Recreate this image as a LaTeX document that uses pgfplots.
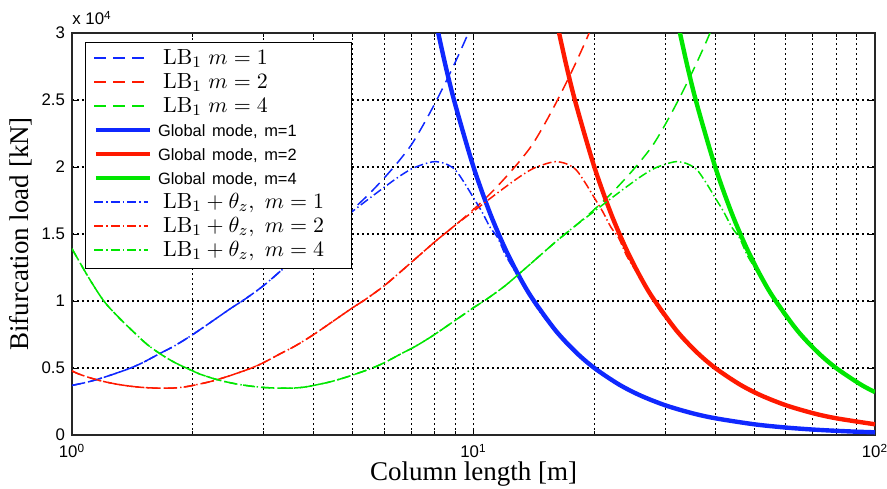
\documentclass[border=0pt]{standalone}
\usepackage[no-math]{fontspec}
\setmainfont{Liberation Serif}
\newfontfamily\arialf{Liberation Sans}
\usepackage{pgfplots}
\pgfplotsset{compat=1.18}
\definecolor{cb}{RGB}{15,40,255}
\definecolor{cr}{RGB}{255,25,0}
\definecolor{cg}{RGB}{0,230,0}
\tikzset{
  dsh/.style={line width=0.75pt, dash pattern=on 6pt off 3.5pt},
  dsd/.style={line width=0.75pt, dash pattern=on 4.5pt off 1.5pt on 0.7pt off 1.5pt},
  glb/.style={line width=2.2pt, line join=round},
}
\newcommand{\li}[1]{\tikz[baseline={(0pt,-3pt)}]{\draw[#1] (0pt,0pt)--(27pt,0pt);}\hspace{3pt}}
\newcommand{\gm}[1]{{\arialf\fontsize{8.2}{10}\selectfont Global mode, m=#1}}
\newcommand{\lbe}[1]{\hspace*{4pt}{\fontsize{11}{13}\selectfont #1}}
\begin{document}
\begin{tikzpicture}
\path[use as bounding box] (-36pt,-26.5pt) rectangle (407.5pt,217.5pt);
\begin{axis}[
  name=ax,
  at={(0,0)}, anchor=south west,
  scale only axis, width=401.5pt, height=201pt,
  xmode=log, xmin=1, xmax=100, ymin=0, ymax=30000,
  xtick={1,10,100},
  xticklabels={10\textsuperscript{0},10\textsuperscript{1},10\textsuperscript{2}},
  minor xtick={2,3,4,5,6,7,8,9,20,30,40,50,60,70,80,90},
  ytick={0,5000,10000,15000,20000,25000,30000},
  yticklabels={0,0.5,1,1.5,2,2.5,3},
  scaled y ticks=false,
  tick label style={font=\arialf\fontsize{8.4}{10}\selectfont},
  xticklabel style={yshift=-1pt},
  xmajorgrids, xminorgrids, ymajorgrids,
  major grid style={black, line width=0.55pt, dash pattern=on 1pt off 1.5pt},
  minor grid style={black, line width=0.55pt, dash pattern=on 1pt off 1.5pt},
  tick pos=both, tick align=inside,
  major tick length=3pt, minor tick length=2pt,
  every tick/.style={black, line width=0.5pt},
  axis line style={line width=0.7pt, black!85},
  xlabel={Column length [m]}, ylabel={Bifurcation load [kN]},
  label style={font=\fontsize{13.5}{16}\selectfont},
  xlabel style={at={(axis description cs:0.5,-0.1144)}, anchor=base},
  ylabel style={at={(axis description cs:-0.0548,0.5)}, anchor=base},
  legend cell align=left,
  legend style={at={(axis description cs:0.0162,0.9776)}, anchor=north west,
    draw=black, line width=0.6pt, fill=white, inner xsep=1pt, inner ysep=3pt,
    row sep=1pt,
    nodes={text width=125pt, text height=7.2pt, text depth=2.8pt, inner xsep=3pt, inner ysep=0.5pt}},
]
\addlegendimage{empty legend}
\addlegendentry{\li{cb,dsh}\lbe{$\mathrm{LB}_1\ m=1$}}
\addlegendimage{empty legend}
\addlegendentry{\li{cr,dsh}\lbe{$\mathrm{LB}_1\ m=2$}}
\addlegendimage{empty legend}
\addlegendentry{\li{cg,dsh}\lbe{$\mathrm{LB}_1\ m=4$}}
\addlegendimage{empty legend}
\addlegendentry{\li{cb,glb}\gm{1}}
\addlegendimage{empty legend}
\addlegendentry{\li{cr,glb}\gm{2}}
\addlegendimage{empty legend}
\addlegendentry{\li{cg,glb}\gm{4}}
\addlegendimage{empty legend}
\addlegendentry{\li{cb,dsd}\lbe{$\mathrm{LB}_1+\theta_z,\ m=1$}}
\addlegendimage{empty legend}
\addlegendentry{\li{cr,dsd}\lbe{$\mathrm{LB}_1+\theta_z,\ m=2$}}
\addlegendimage{empty legend}
\addlegendentry{\li{cg,dsd}\lbe{$\mathrm{LB}_1+\theta_z,\ m=4$}}
% LB1 dashed
\addplot[forget plot, draw=cb, dsh, smooth] coordinates {(1,3700)(1.1,3970)(1.2,4300)(1.3,4650)(1.4,5000)(1.5,5400)(1.65,6060)(1.8,6650)(2,7500)(2.3,8750)(2.5,9500)(2.7,10150)(3,11150)(3.4,12550)(4,14400)(4.5,15650)(5,16830)(5.5,18000)(6,19200)(6.5,20400)(7,21650)(7.5,23150)(8,24700)(8.5,26250)(9,27800)(9.5,29350)(9.8,30300)};
\addplot[forget plot, draw=cr, dsh, smooth] coordinates {(1,4780)(1.04,4550)(1.12,4230)(1.2,3990)(1.3,3780)(1.4,3640)(1.5,3550)(1.6,3505)(1.7,3490)(1.8,3510)(1.9,3580)(2,3700)(2.2,3970)(2.4,4300)(2.6,4650)(2.8,5000)(3,5400)(3.3,6060)(3.6,6650)(4,7500)(4.6,8750)(5,9500)(5.4,10150)(6,11150)(6.8,12550)(8,14400)(9,15650)(10,16830)(11,18000)(12,19200)(13,20400)(14,21650)(15,23150)(16,24700)(17,26250)(18,27800)(19,29350)(19.6,30300)};
\addplot[forget plot, draw=cg, dsh, smooth] coordinates {(1,13900)(1.1,11750)(1.2,10000)(1.3,8850)(1.4,7900)(1.54,6750)(1.676,5970)(1.8,5420)(1.932,4980)(2,4780)(2.08,4550)(2.24,4230)(2.4,3990)(2.6,3780)(2.8,3640)(3,3550)(3.2,3505)(3.4,3490)(3.6,3510)(3.8,3580)(4,3700)(4.4,3970)(4.8,4300)(5.2,4650)(5.6,5000)(6,5400)(6.6,6060)(7.2,6650)(8,7500)(9.2,8750)(10,9500)(10.8,10150)(12,11150)(13.6,12550)(16,14400)(18,15650)(20,16830)(22,18000)(24,19200)(26,20400)(28,21650)(30,23150)(32,24700)(34,26250)(36,27800)(38,29350)(39.2,30300)};
% Global modes
\addplot[forget plot, draw=cb, glb, smooth] coordinates {(8,31250)(8.5,27682)(9,24691)(10,20000)(11,16529)(12,13889)(13,11834)(14,10204)(16,7813)(18,6173)(20,5000)(23,3781)(26,2959)(30,2222)(35,1633)(40,1250)(50,800)(60,556)(70,408)(80,313)(90,247)(100,200)};
\addplot[forget plot, draw=cr, glb, smooth] coordinates {(16,31250)(17,27682)(18,24691)(20,20000)(22,16529)(24,13889)(26,11834)(28,10204)(32,7813)(36,6173)(40,5000)(46,3781)(52,2959)(60,2222)(70,1633)(80,1250)(100,800)};
\addplot[forget plot, draw=cg, glb, smooth] coordinates {(32,31250)(34,27682)(36,24691)(40,20000)(44,16529)(48,13889)(52,11834)(56,10204)(64,7813)(72,6173)(80,5000)(92,3781)(100,3200)};
% LB1 + theta_z dash-dot
\addplot[forget plot, draw=cb, dsd, smooth] coordinates {(1,3700)(1.1,3970)(1.2,4300)(1.3,4650)(1.4,5000)(1.5,5400)(1.65,6060)(1.8,6650)(2,7500)(2.3,8750)(2.5,9500)(2.7,10150)(3,11150)(3.4,12550)(4,14400)(4.5,15650)(5,16700)(5.5,17650)(6,18500)(6.5,19250)(7,19850)(7.5,20200)(8,20400)(8.5,20250)(9,19800)(9.5,18800)(10,17700)(10.5,16650)(11,15500)(11.5,14700)(12,13450)(12.5,12550)(13,11700)(14,10050)(15,8760)(17,6820)(20,4925)(25,3150)(30,2190)(40,1230)(50,790)(70,400)(100,197)};
\addplot[forget plot, draw=cr, dsd, smooth] coordinates {(1,4780)(1.04,4550)(1.12,4230)(1.2,3990)(1.3,3780)(1.4,3640)(1.5,3550)(1.6,3505)(1.7,3490)(1.8,3510)(1.9,3580)(2,3700)(2.2,3970)(2.4,4300)(2.6,4650)(2.8,5000)(3,5400)(3.3,6060)(3.6,6650)(4,7500)(4.6,8750)(5,9500)(5.4,10150)(6,11150)(6.8,12550)(8,14400)(9,15650)(10,16700)(11,17650)(12,18500)(13,19250)(14,19850)(15,20200)(16,20400)(17,20250)(18,19800)(19,18800)(20,17700)(21,16650)(22,15500)(23,14700)(24,13450)(25,12550)(26,11700)(28,10050)(30,8760)(34,6820)(40,4925)(50,3150)(60,2190)(80,1230)(100,790)};
\addplot[forget plot, draw=cg, dsd, smooth] coordinates {(1,13900)(1.1,11750)(1.2,10000)(1.3,8850)(1.4,7900)(1.54,6750)(1.676,5970)(1.8,5420)(1.932,4980)(2,4780)(2.08,4550)(2.24,4230)(2.4,3990)(2.6,3780)(2.8,3640)(3,3550)(3.2,3505)(3.4,3490)(3.6,3510)(3.8,3580)(4,3700)(4.4,3970)(4.8,4300)(5.2,4650)(5.6,5000)(6,5400)(6.6,6060)(7.2,6650)(8,7500)(9.2,8750)(10,9500)(10.8,10150)(12,11150)(13.6,12550)(16,14400)(18,15650)(20,16700)(22,17650)(24,18500)(26,19250)(28,19850)(30,20200)(32,20400)(34,20250)(36,19800)(38,18800)(40,17700)(42,16650)(44,15500)(46,14700)(48,13450)(50,12550)(52,11700)(56,10050)(60,8760)(68,6820)(80,4925)(100,3150)};
\end{axis}
\node[anchor=base west, inner sep=0pt, yshift=4pt, font=\arialf\fontsize{8.4}{10}\selectfont] at (ax.north west) {x 10\textsuperscript{4}};
\end{tikzpicture}
\end{document}
